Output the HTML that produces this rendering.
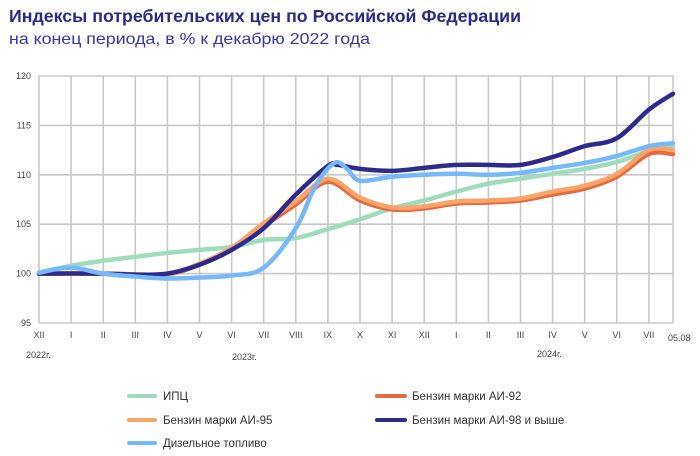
<!DOCTYPE html>
<html><head><meta charset="utf-8"><style>
body{margin:0;background:#fff;width:700px;height:456px;overflow:hidden}
svg{display:block;font-family:"Liberation Sans",sans-serif}
</style></head><body>
<svg id="s" width="700" height="456" xmlns="http://www.w3.org/2000/svg">
<text x="9" y="22" font-size="17.5" font-weight="bold" fill="#2b2a87" textLength="512" lengthAdjust="spacingAndGlyphs">Индексы потребительских цен по Российской Федерации</text>
<text x="9" y="44" font-size="16" fill="#3a34a8" textLength="361" lengthAdjust="spacingAndGlyphs">на конец периода, в % к декабрю 2022 года</text>
<g id="grid" stroke="#c8c8c8" stroke-width="1.6"></g>
<g id="lbl" font-size="9" fill="#444"></g>
<g id="ser" fill="none" stroke-linecap="round" stroke-linejoin="round"></g>
<g font-size="11.5" fill="#333">
<line x1="129" y1="396" x2="155" y2="396" stroke="#9fdcbc" stroke-width="4" stroke-linecap="round"/>
<text x="163" y="400">ИПЦ</text>
<line x1="129" y1="420" x2="155" y2="420" stroke="#fca36a" stroke-width="4" stroke-linecap="round"/>
<text x="163" y="424">Бензин марки АИ-95</text>
<line x1="129" y1="443" x2="155" y2="443" stroke="#77b8f8" stroke-width="4" stroke-linecap="round"/>
<text x="163" y="447">Дизельное топливо</text>
<line x1="377" y1="396" x2="405" y2="396" stroke="#e66a3e" stroke-width="4" stroke-linecap="round"/>
<text x="412" y="400">Бензин марки АИ-92</text>
<line x1="377" y1="420" x2="405" y2="420" stroke="#2e2a8c" stroke-width="4" stroke-linecap="round"/>
<text x="412" y="424">Бензин марки АИ-98 и выше</text>
</g>
</svg>
<script>
var NS="http://www.w3.org/2000/svg";
function X(m){return 39+m*32.1}
function Y(v){return 76+(120-v)*9.88}
function el(p,t,a,txt){var e=document.createElementNS(NS,t);for(var k in a)e.setAttribute(k,a[k]);if(txt)e.textContent=txt;document.getElementById(p).appendChild(e);return e}
for(var v=95;v<=120;v+=5){el("grid","line",{x1:39,x2:673,y1:Y(v),y2:Y(v)});el("lbl","text",{x:31,y:Y(v)+3,"text-anchor":"end"},v)}
var mon=["XII","I","II","III","IV","V","VI","VII","VIII","IX","X","XI","XII","I","II","III","IV","V","VI","VII"];
for(var m=0;m<20;m++){el("grid","line",{x1:X(m),x2:X(m),y1:Y(120),y2:Y(95)});el("lbl","text",{x:X(m),y:338,"text-anchor":"middle"},mon[m])}
el("grid","line",{x1:673,x2:673,y1:Y(120),y2:Y(95)});
el("lbl","text",{x:668,y:341},"05.08");
el("lbl","text",{x:26,y:358},"2022г.");
el("lbl","text",{x:232,y:360},"2023г.");
el("lbl","text",{x:537,y:357},"2024г.");
function path(pts){var P=pts.map(function(p){return[X(p[0]),Y(p[1])]});var d="M"+P[0][0]+","+P[0][1];
for(var i=0;i<P.length-1;i++){var p0=P[i-1]||P[i],p1=P[i],p2=P[i+1],p3=P[i+2]||p2;
d+="C"+(p1[0]+(p2[0]-p0[0])/6)+","+(p1[1]+(p2[1]-p0[1])/6)+" "+(p2[0]-(p3[0]-p1[0])/6)+","+(p2[1]-(p3[1]-p1[1])/6)+" "+p2[0]+","+p2[1]}return d}
var S=[
["#9fdcbc",[[0,100.1],[1,100.8],[2,101.3],[3,101.7],[4,102.1],[5,102.4],[6,102.7],[7,103.4],[8,103.6],[9,104.5],[10,105.5],[11,106.6],[12,107.4],[13,108.3],[14,109.1],[15,109.6],[16,110.1],[17,110.6],[18,111.3],[19,112.4],[19.75,112.8]]],
["#e66a3e",[[0,100],[2,100],[3,99.9],[4,99.9],[5,100.9],[6,102.4],[7,104.8],[8,107],[9,109.3],[10,107.4],[11,106.5],[12,106.6],[13,107.1],[14,107.2],[15,107.4],[16,108],[17,108.6],[18,109.8],[19,112.1],[19.75,112.1]]],
["#fca36a",[[0,100],[2,100],[3,99.9],[4,99.9],[5,101],[6,102.6],[7,105.1],[8,107.3],[9,109.6],[10,107.7],[11,106.7],[12,106.8],[13,107.3],[14,107.4],[15,107.6],[16,108.3],[17,108.9],[18,110.1],[19,112.5],[19.75,112.5]]],
["#2e2a8c",[[0,100],[2,100],[3,99.9],[4,100],[5,100.9],[6,102.4],[7,104.6],[8,108],[9,110.9],[9.3,111],[10,110.6],[11,110.4],[12,110.7],[13,111],[14,111],[15,111],[16,111.8],[17,112.9],[18,113.7],[19,116.6],[19.75,118.2]]],
["#77b8f8",[[0,100.1],[1,100.6],[2,100],[3,99.7],[4,99.5],[5,99.6],[6,99.8],[7,100.6],[8,104.6],[8.6,108.8],[9.2,111.2],[9.6,110.6],[10,109.4],[11,109.8],[12,110],[13,110.1],[14,110],[15,110.2],[16,110.7],[17,111.2],[18,111.9],[19,112.9],[19.75,113.2]]]
];
S.forEach(function(s){el("ser","path",{d:path(s[1]),stroke:s[0],"stroke-width":4.5})});
</script>
</body></html>
